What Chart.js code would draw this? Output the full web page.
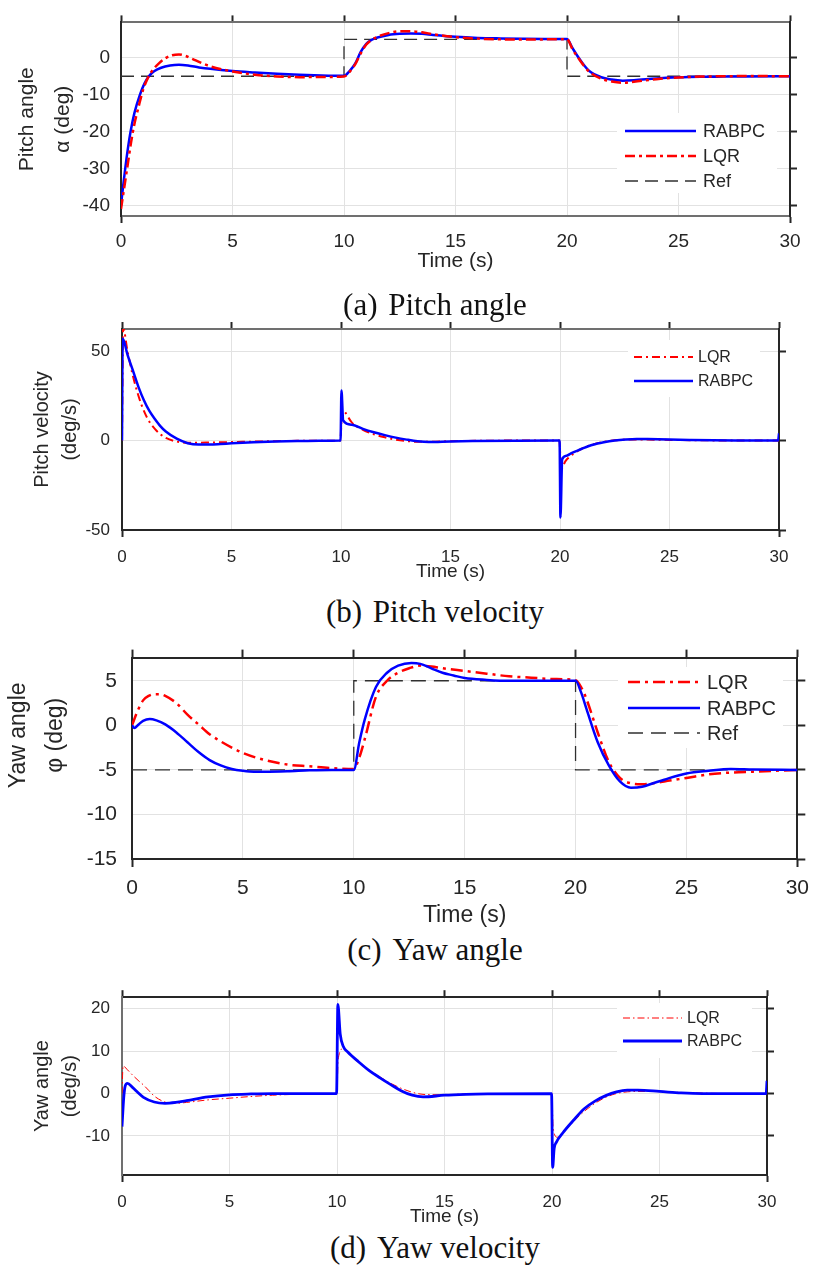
<!DOCTYPE html>
<html>
<head>
<meta charset="utf-8">
<script src="https://cdn.jsdelivr.net/npm/chart.js@4.4.1/dist/chart.umd.min.js"></script>
<style>
  html, body { margin: 0; padding: 0; background: #fff; }
  #page { position: relative; width: 818px; height: 1269px; overflow: hidden; }
  canvas { position: absolute; left: 0; }
  .cap { position: absolute; left: 0; width: 870px; text-align: center; white-space: pre;
         font-family: "Liberation Serif", "Times New Roman", serif; font-size: 31px; color: #111; line-height: 34px; }
  .cap .tag { margin-right: 3px; }
</style>
</head>
<body>
<div id="page">
  <canvas id="pA" width="818" height="280" style="top:0px"></canvas>
  <canvas id="pB" width="818" height="290" style="top:300px"></canvas>
  <canvas id="pC" width="818" height="300" style="top:630px"></canvas>
  <canvas id="pD" width="818" height="255" style="top:975px"></canvas>
  <div class="cap" style="top:288px"><span class="tag">(a) </span>Pitch angle</div>
  <div class="cap" style="top:595px"><span class="tag">(b) </span>Pitch velocity</div>
  <div class="cap" style="top:933px"><span class="tag">(c) </span>Yaw angle</div>
  <div class="cap" style="top:1231px"><span class="tag">(d) </span>Yaw velocity</div>
</div>
<script>
// ---- data: [time (s), value] ----
const timeTicks = [0, 5, 10, 15, 20, 25, 30];

// reference step command (deg)
const refSteps = [[0, -5], [10, -5], [10, 5], [20, 5], [20, -5], [30, -5]];

// (a) pitch angle (deg)
const pitchRabpc = [[0,-40],[0.1,-34.5],[0.2,-29.5],[0.3,-25],[0.43,-20],[0.6,-15],[0.85,-10],[1.05,-7],[1.25,-5],
  [1.5,-3.6],[1.8,-2.7],[2.2,-2.1],[2.6,-1.9],[3,-2.1],[3.5,-2.6],[4,-3.0],[5,-3.6],[6,-4.0],[7,-4.35],[8,-4.6],[9,-4.8],[10,-4.9],
  [10.25,-3.6],[10.5,-1.6],[10.75,1.6],[11,3.8],[11.25,4.9],[11.5,5.5],[12,6.2],[12.5,6.5],[13,6.6],[13.5,6.5],[14,6.2],
  [15,5.7],[16,5.4],[17,5.25],[18,5.15],[19,5.1],[20,5.1],
  [20.25,2.6],[20.5,0.2],[20.75,-1.9],[21,-3.6],[21.5,-5.2],[22,-5.9],[22.5,-6.2],[23,-6.1],[24,-5.6],[25,-5.3],
  [26,-5.15],[27,-5.1],[28,-5.05],[30,-5.0]];
const pitchLqr = [[0,-41],[0.1,-37],[0.2,-33],[0.3,-29],[0.45,-23],[0.6,-18],[0.8,-13],[1.0,-8.5],[1.2,-5.5],[1.4,-3.5],
  [1.7,-1.5],[2.0,-0.1],[2.3,0.7],[2.6,0.9],[2.9,0.5],[3.2,-0.3],[3.6,-1.4],[4.0,-2.3],[4.5,-3.1],[5,-3.7],[5.5,-4.2],
  [6,-4.6],[7,-5.05],[8,-5.25],[9,-5.2],[10,-5.05],
  [10.25,-3.8],[10.5,-1.8],[10.75,1.2],[11,3.6],[11.25,4.9],[11.5,5.7],[12,6.7],[12.5,7.2],[13,7.2],[13.5,6.9],[14,6.4],
  [15,5.6],[16,5.2],[17,5.0],[18,4.95],[19,5.0],[20,5.05],
  [20.25,2.3],[20.5,0],[20.75,-2.1],[21,-3.8],[21.5,-5.6],[22,-6.4],[22.5,-6.75],[23,-6.5],[24,-5.8],[25,-5.35],
  [26,-5.1],[27,-5.0],[28,-4.95],[30,-5.0]];

// (b) pitch velocity (deg/s)
const pitchRateLqr = [[0,0],[0.05,63],[0.25,50],[0.5,36],[0.75,25],[1.0,16.5],[1.25,10.5],[1.5,6.5],[1.75,3.5],[2.0,1.5],
  [2.5,-0.6],[3.0,-1.2],[3.5,-1.2],[4,-1.1],[5,-0.9],[6,-0.6],[7,-0.4],[8,-0.2],[9.97,0],
  [10.05,17],[10.5,10],[11,6],[11.5,3.5],[12,1.8],[12.5,0.5],[13,-0.3],[13.5,-0.7],[14,-0.7],[15,-0.4],[17,-0.1],[19.97,0],
  [20.05,-16],[20.25,-11.5],[20.5,-8.5],[21,-4.5],[21.5,-2.2],[22,-0.8],[22.5,0.1],[23,0.5],[24,0.5],[25,0.35],
  [26,0.2],[28,0],[30,0]];
const pitchRateRabpc = [[0,0],[0.03,57],[0.25,48],[0.5,39],[0.75,30],[1.0,22.5],[1.25,16.5],[1.5,12],[1.75,8],[2.0,5],
  [2.5,1],[3.0,-1.5],[3.5,-2.3],[4,-2.3],[4.5,-2],[5,-1.6],[6,-1.0],[7,-0.6],[8,-0.3],[9,-0.1],[9.98,0],
  [10.02,28],[10.1,11.2],[10.5,8.8],[11,6.5],[11.5,4.6],[12,3.0],[12.5,1.6],[13,0.5],[13.5,-0.4],[14,-0.8],[15,-0.5],
  [16,-0.3],[18,-0.1],[19.98,0],
  [20.02,-43],[20.1,-10.5],[20.3,-8.5],[20.5,-7.2],[20.8,-5.6],[21,-4.6],[21.5,-2.4],[22,-1.0],[22.5,0],[23,0.6],
  [23.5,0.9],[24,0.8],[25,0.5],[26,0.3],[27,0.15],[28,0.05],[29.96,0],[30,4]];

// (c) yaw angle (deg)
const yawLqr = [[0,0],[0.25,1.6],[0.5,2.8],[0.75,3.3],[1.0,3.5],[1.25,3.5],[1.5,3.3],[2,2.5],[2.5,1.2],[3,0.1],
  [3.5,-1.0],[4,-1.8],[5,-3.1],[6,-3.9],[7,-4.4],[8,-4.6],[9,-4.8],[10,-4.9],
  [10.25,-3.6],[10.5,-1.5],[11,3.2],[11.5,5.0],[12,5.9],[12.5,6.4],[13,6.7],[13.5,6.6],[14,6.4],[15,6.1],[16,5.8],
  [17,5.5],[18,5.35],[19,5.2],[20,5.05],
  [20.25,4.3],[20.5,2.9],[21,-0.8],[21.5,-4.1],[22,-5.9],[22.5,-6.5],[23,-6.6],[24,-6.3],[25,-5.9],[26,-5.5],
  [27,-5.3],[28,-5.2],[29,-5.1],[30,-5.0]];
const yawRabpc = [[0,0],[0.1,-0.3],[0.3,0.1],[0.5,0.5],[0.8,0.7],[1.1,0.55],[1.5,0.1],[2,-0.8],[2.5,-1.9],[3,-3.0],
  [3.5,-3.9],[4,-4.5],[4.5,-4.9],[5,-5.1],[5.5,-5.2],[6,-5.2],[7,-5.15],[8,-5.05],[9,-5.0],[10,-5.0],
  [10.25,-1.9],[10.5,0.7],[11,4.3],[11.5,5.9],[12,6.7],[12.6,7.0],[13,6.9],[13.5,6.4],[14,5.9],[14.5,5.6],[15,5.3],
  [16,5.1],[17,5.0],[20,5.0],
  [20.25,3.7],[20.5,1.8],[21,-1.9],[21.5,-4.5],[22,-6.3],[22.5,-7.0],[23,-6.9],[23.5,-6.5],[24,-6.1],[25,-5.4],
  [26,-5.1],[27,-4.9],[28,-4.95],[30,-5.0]];

// (d) yaw velocity (deg/s)
const yawRateLqr = [[0,0],[0.05,6.5],[0.25,5.6],[0.5,4.3],[0.75,3.1],[1.0,2.0],[1.25,0.7],[1.5,-0.6],[2,-2.0],[2.5,-2.3],
  [3,-2.1],[4,-1.5],[5,-1.1],[6,-0.7],[7,-0.4],[8,-0.2],[9,-0.1],[10,0],
  [10.05,8],[10.3,10.6],[10.5,9.6],[11,7.3],[11.5,5.5],[12,3.9],[12.5,2.4],[13,1.2],[13.5,0.3],[14,-0.2],[15,-0.3],
  [16,-0.1],[20,0],
  [20.05,-8],[20.25,-10.3],[20.5,-9.3],[21,-6.6],[21.5,-4.2],[22,-2.3],[22.5,-0.9],[23,0],[23.5,0.4],[24,0.5],
  [25,0.45],[26,0.25],[27,0.1],[28,0],[30,0]];
const yawRateRabpc = [[0,-7.8],[0.08,-1],[0.15,1.8],[0.25,2.4],[0.5,1.4],[0.75,0.2],[1.0,-0.9],[1.5,-2.0],[2,-2.3],
  [2.5,-2.1],[3,-1.7],[4,-0.8],[5,-0.3],[6,-0.1],[7,0],[9.98,0],
  [10.04,21],[10.15,14],[10.3,11],[10.5,9.8],[11,7.5],[11.5,5.4],[12,3.7],[12.5,2.1],[13,0.6],[13.5,-0.4],[14,-0.8],
  [15,-0.4],[16,-0.2],[17,-0.1],[19.98,0],
  [20.03,-17.4],[20.1,-13],[20.2,-11.5],[20.5,-9.3],[21,-6.3],[21.5,-3.6],[22,-1.8],[22.5,-0.5],[23,0.4],[23.5,0.8],
  [24,0.8],[25,0.5],[26,0.15],[27,0],[29.96,0],[30,3]];

// ---- styling ----
const TXT = '#262626';
const DARK = '#262626';
const GREY = '#707070';
const GRID = '#e2e2e2';
const FONT = '"Liberation Sans", Arial, Helvetica, sans-serif';
Chart.defaults.font.family = FONT;
Chart.defaults.color = TXT;

const toXY = pts => pts.map(([x, y]) => ({ x, y }));

function response(label, pts, style) {
  return Object.assign({
    label, data: toXY(pts), pointRadius: 0, fill: false,
    cubicInterpolationMode: 'monotone', borderCapStyle: 'butt', borderJoinStyle: 'round'
  }, style);
}
function reference(pts, style) {
  return Object.assign({ label: 'Ref', data: toXY(pts), pointRadius: 0, fill: false, tension: 0 }, style);
}

// legend drawn inside the plot box with line samples
function insetLegend(cfg) {
  return {
    id: 'insetLegend',
    afterDatasetsDraw(chart) {
      const ctx = chart.ctx;
      ctx.save();
      ctx.fillStyle = '#ffffff';
      ctx.fillRect(cfg.box[0], cfg.box[1], cfg.box[2] - cfg.box[0], cfg.box[3] - cfg.box[1]);
      cfg.order.forEach((label, i) => {
        const ds = chart.data.datasets.find(d => d.label === label);
        const y = cfg.rows[i];
        ctx.beginPath();
        ctx.setLineDash(ds.borderDash || []);
        ctx.lineWidth = ds.borderWidth;
        ctx.strokeStyle = ds.borderColor;
        ctx.lineCap = 'butt';
        ctx.moveTo(cfg.sample[0], y);
        ctx.lineTo(cfg.sample[1], y);
        ctx.stroke();
        ctx.setLineDash([]);
        ctx.fillStyle = TXT;
        ctx.font = cfg.size + 'px ' + FONT;
        ctx.textAlign = 'left';
        ctx.textBaseline = 'middle';
        ctx.fillText(label, cfg.textX, y + 1);
      });
      ctx.restore();
    }
  };
}

function panel(p) {
  const H = p.height, W = 818, a = p.area;
  const yTicks = { stepSize: p.yStep, includeBounds: false };
  const lastIdx = timeTicks.length - 1;
  new Chart(document.getElementById(p.id), {
    type: 'line',
    data: { datasets: p.datasets },
    options: {
      responsive: false, animation: false, devicePixelRatio: 1,
      layout: { padding: 0 },
      plugins: { legend: { display: false }, tooltip: { enabled: false }, title: { display: false } },
      scales: {
        x: {
          type: 'linear', position: 'bottom', min: 0, max: 30,
          afterFit: s => { s.height = H - a.b; },
          ticks: { stepSize: 5, includeBounds: false, padding: p.xTickPad, maxRotation: 0, autoSkip: false,
                   font: { size: p.tickSize }, color: TXT },
          grid: { color: GRID, lineWidth: 1, drawTicks: true, tickLength: p.tickLen, tickWidth: 2,
                  tickColor: c => (c.index === 0 || c.index === lastIdx) ? p.borders.side : 'rgba(0,0,0,0)' },
          border: { color: p.borders.bottom, width: 2 },
          title: { display: true, text: 'Time (s)', color: TXT, font: { size: p.xTitleSize, lineHeight: 1.2 },
                   padding: { top: 0, bottom: p.xTitlePad } }
        },
        xTop: {
          type: 'linear', position: 'top', min: 0, max: 30,
          afterFit: s => { s.height = a.t; },
          ticks: { stepSize: 5, includeBounds: false, display: false },
          grid: { drawOnChartArea: false, drawTicks: true, tickLength: p.tickLen, tickWidth: 2, tickColor: DARK },
          border: { color: p.borders.top, width: 2 }
        },
        y: {
          type: 'linear', position: 'left', min: p.yMin, max: p.yMax,
          afterFit: s => { s.width = a.l; },
          ticks: Object.assign({ padding: p.yTickPad, font: { size: p.tickSize }, color: TXT }, yTicks),
          grid: { color: GRID, lineWidth: 1, drawTicks: false },
          border: { color: p.borders.left, width: 2 },
          title: { display: true, text: p.yTitle, color: TXT,
                   font: { size: p.yTitleSize, lineHeight: p.yTitleLine + 'px' },
                   padding: { top: p.yTitlePad, bottom: 0 } }
        },
        yRight: {
          type: 'linear', position: 'right', min: p.yMin, max: p.yMax,
          afterFit: s => { s.width = W - a.r; },
          ticks: Object.assign({ display: false }, yTicks),
          grid: { drawOnChartArea: false, drawTicks: true, tickLength: p.tickLen, tickWidth: 2, tickColor: DARK },
          border: { color: p.borders.side, width: 2 }
        }
      }
    },
    plugins: [insetLegend(p.legend)]
  });
}

const BLUE = '#0000ff', RED = '#ff0000', REFC = '#303030';

// (a) Pitch angle
panel({
  id: 'pA', height: 280, area: { l: 121, t: 14, r: 790, b: 216 },
  yMin: -42.9, yMax: 9.6, yStep: 10, tickSize: 19, tickLen: 7,
  xTickPad: 7, yTickPad: 11, xTitleSize: 21, xTitlePad: 6,
  yTitle: ['Pitch angle', '\u03b1 (deg)'], yTitleSize: 21, yTitleLine: 36, yTitlePad: 9,
  borders: { top: GREY, bottom: GREY, left: DARK, side: DARK },
  datasets: [
    response('LQR', pitchLqr, { borderColor: RED, borderWidth: 2.5, borderDash: [10, 4, 3, 4], order: 0 }),
    response('RABPC', pitchRabpc, { borderColor: BLUE, borderWidth: 2.5, order: 1 }),
    reference(refSteps, { borderColor: REFC, borderWidth: 1.3, borderDash: [13, 7], order: 2 })
  ],
  legend: { box: [617, 113, 777, 193], rows: [131, 156, 181], sample: [625, 696], textX: 703, size: 18,
            order: ['RABPC', 'LQR', 'Ref'] }
});

// (b) Pitch velocity
panel({
  id: 'pB', height: 290, area: { l: 122, t: 29, r: 779, b: 230 },
  yMin: -50, yMax: 62.3, yStep: 50, tickSize: 17, tickLen: 7,
  xTickPad: 10, yTickPad: 12, xTitleSize: 19, xTitlePad: 7,
  yTitle: ['Pitch velocity', '(deg/s)'], yTitleSize: 20, yTitleLine: 28, yTitlePad: 28,
  borders: { top: GREY, bottom: DARK, left: DARK, side: DARK },
  datasets: [
    response('RABPC', pitchRateRabpc, { borderColor: BLUE, borderWidth: 2.5, order: 0 }),
    response('LQR', pitchRateLqr, { borderColor: RED, borderWidth: 2, borderDash: [8, 4, 2, 4], order: 1 })
  ],
  legend: { box: [628, 40, 760, 97], rows: [57, 81], sample: [634, 693], textX: 698, size: 16,
            order: ['LQR', 'RABPC'] }
});

// (c) Yaw angle
panel({
  id: 'pC', height: 300, area: { l: 132, t: 23, r: 804, b: 229 },
  yMin: -15, yMax: 7.6, yStep: 5, tickSize: 21, tickLen: 8,
  xTickPad: 9, yTickPad: 15, xTitleSize: 23, xTitlePad: 1,
  yTitle: ['\u2003\u2003Yaw angle', '\u2003\u2003\u03c6 (deg)'], yTitleSize: 23, yTitleLine: 37, yTitlePad: 0,
  borders: { top: DARK, bottom: DARK, left: DARK, side: DARK },
  datasets: [
    response('RABPC', yawRabpc, { borderColor: BLUE, borderWidth: 2.5, order: 0 }),
    response('LQR', yawLqr, { borderColor: RED, borderWidth: 2.5, borderDash: [12, 5, 3, 5], order: 1 }),
    reference(refSteps, { borderColor: REFC, borderWidth: 1.3, borderDash: [15, 8], order: 2 })
  ],
  legend: { box: [618, 37, 783, 118], rows: [52, 78, 103], sample: [628, 700], textX: 707, size: 20,
            order: ['LQR', 'RABPC', 'Ref'] }
});

// (d) Yaw velocity
panel({
  id: 'pD', height: 255, area: { l: 122, t: 17, r: 767, b: 200 },
  yMin: -19.2, yMax: 22.7, yStep: 10, tickSize: 17, tickLen: 7,
  xTickPad: 10, yTickPad: 12, xTitleSize: 19, xTitlePad: 2,
  yTitle: ['Yaw angle', '(deg/s)'], yTitleSize: 20, yTitleLine: 28, yTitlePad: 28,
  borders: { top: DARK, bottom: DARK, left: GREY, side: DARK },
  datasets: [
    response('RABPC', yawRateRabpc, { borderColor: BLUE, borderWidth: 2.8, order: 0 }),
    response('LQR', yawRateLqr, { borderColor: RED, borderWidth: 1, borderDash: [7, 3, 1.5, 3], order: 1 })
  ],
  legend: { box: [617, 28, 752, 83], rows: [43, 66], sample: [623, 682], textX: 687, size: 16,
            order: ['LQR', 'RABPC'] }
});
</script>
</body>
</html>
